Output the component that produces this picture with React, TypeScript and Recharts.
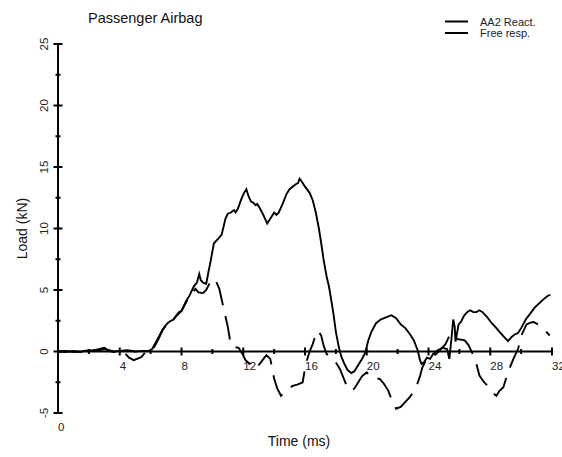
import React from 'react';
import { ComposedChart, Line, Scatter, XAxis, YAxis, ReferenceLine } from 'recharts';

// Time (ms) / load (kN) samples for the airbag reaction trace
const reactTime = [0, 0.5, 1.0, 1.5, 2.0, 2.5, 3.0, 3.3, 3.6, 4.0, 4.5, 5.0, 5.5, 5.9, 6.1, 6.4, 6.7, 6.9, 7.1, 7.3, 7.5, 7.7, 7.85, 8.0, 8.3, 8.5, 8.8, 9.0, 9.15, 9.25, 9.4, 9.6, 9.75, 9.85, 10.1, 10.4, 10.6, 10.85, 11.0, 11.2, 11.4, 11.5, 11.65, 11.85, 12.05, 12.2, 12.35, 12.5, 12.65, 12.8, 12.9, 13.05, 13.3, 13.55, 13.8, 14.0, 14.15, 14.3, 14.55, 14.8, 15.0, 15.2, 15.4, 15.55, 15.65, 15.8, 16.0, 16.3, 16.5, 16.7, 16.9, 17.05, 17.2, 17.4, 17.55, 17.7, 17.85, 18.0, 18.2, 18.35, 18.55, 18.75, 19.0, 19.2, 19.45, 19.7, 19.9, 20.1, 20.3, 20.6, 20.9, 21.2, 21.6, 21.9, 22.2, 22.5, 22.8, 23.05, 23.3, 23.45, 23.55, 23.7, 23.9, 24.1, 24.3, 24.6, 24.9, 25.2, 25.35, 25.5, 25.6, 25.7, 25.75, 25.85, 25.95, 26.1, 26.3, 26.5, 26.7, 26.9, 27.1, 27.3, 27.5, 27.8, 28.1, 28.4, 28.7, 28.95, 29.15, 29.4, 29.6, 29.8, 30.0, 30.3, 30.6, 30.9, 31.2, 31.5, 31.75, 31.9];
const reactLoad = [0.0, 0.05, -0.05, 0.0, 0.1, 0.05, 0.2, 0.1, 0.0, 0.05, 0.1, 0.0, 0.05, 0.05, 0.2, 0.9, 1.6, 2.0, 2.3, 2.5, 2.6, 3.0, 3.2, 3.3, 4.1, 4.5, 5.3, 5.6, 6.3, 5.8, 5.6, 5.5, 6.5, 7.1, 8.8, 9.2, 9.5, 10.8, 11.2, 11.3, 11.5, 11.3, 11.6, 12.3, 12.9, 13.2, 12.6, 12.2, 12.1, 11.9, 12.0, 11.7, 11.1, 10.4, 10.9, 11.3, 11.1, 11.3, 12.0, 12.8, 13.2, 13.4, 13.6, 13.7, 14.05, 13.8, 13.4, 12.9, 12.3, 11.3, 10.0, 8.8, 7.5, 6.1, 5.3, 4.2, 3.0, 1.6, 0.3, -0.4, -1.0, -1.5, -1.75, -1.6, -1.1, -0.6, -0.1, 0.9, 1.6, 2.3, 2.6, 2.75, 2.95, 2.7, 2.2, 1.9, 1.4, 0.9, 0.1, -0.7, -1.0, -0.9, -0.5, -0.6, -0.2, 0.1, 0.3, 0.2, -0.6, 1.2, 2.6, 2.0, 0.8, 1.5, 2.2, 2.4, 2.9, 3.2, 3.35, 3.2, 3.2, 3.35, 3.2, 2.8, 2.3, 1.9, 1.45, 1.1, 0.85, 1.2, 1.4, 1.5, 1.9, 2.6, 3.1, 3.6, 3.95, 4.3, 4.55, 4.6];

// Time (ms) / load (kN) samples for the free response trace
const freeTime = [0, 0.5, 1.0, 1.5, 2.0, 2.5, 3.0, 3.3, 3.6, 4.0, 4.3, 4.6, 4.9, 5.2, 5.4, 5.7, 6.0, 6.2, 6.5, 6.8, 7.0, 7.3, 7.6, 8.0, 8.3, 8.6, 8.9, 9.1, 9.4, 9.6, 9.8, 10.0, 10.2, 10.45, 10.75, 11.0, 11.2, 11.5, 11.7, 11.95, 12.15, 12.4, 12.7, 12.95, 13.25, 13.5, 13.75, 14.0, 14.2, 14.45, 14.6, 14.8, 15.2, 15.5, 15.85, 16.05, 16.3, 16.5, 16.7, 16.85, 17.05, 17.2, 17.4, 17.6, 17.8, 18.0, 18.25, 18.45, 18.7, 19.0, 19.2, 19.45, 19.7, 20.0, 20.3, 20.5, 20.85, 21.1, 21.4, 21.7, 21.9, 22.2, 22.5, 22.8, 23.2, 23.45, 23.6, 23.75, 24.05, 24.3, 24.5, 24.8, 25.1, 25.4, 25.7, 25.9, 26.35, 26.6, 26.9, 27.1, 27.3, 27.6, 28.0, 28.2, 28.4, 28.6, 28.85, 29.15, 29.5, 29.8, 30.05, 30.35, 30.6, 30.8, 31.1, 31.3, 31.55, 31.85];
const freeLoad = [0.0, -0.05, 0.05, -0.05, 0.05, 0.15, 0.3, 0.05, -0.05, 0.0, -0.1, -0.5, -0.7, -0.55, -0.45, 0.0, 0.05, 0.3, 1.0, 1.8, 2.1, 2.4, 2.8, 3.3, 4.0, 4.6, 5.1, 4.8, 4.75, 5.0, 5.5, 5.9, 5.8, 5.1, 3.4, 2.0, 0.5, 0.35, 0.3, -0.2, -0.7, -1.0, -0.8, -1.2, -0.7, -0.3, -0.6, -2.2, -3.0, -3.6, -3.4, -3.2, -2.8, -2.7, -2.5, -1.0, 0.0, 0.6, 1.4, 1.7, 1.3, 0.5, -0.2, -0.45, -0.6, -0.9, -1.4, -2.0, -2.8, -3.2, -3.0, -2.5, -2.0, -1.7, -2.1, -2.1, -2.25, -2.6, -3.2, -4.2, -4.65, -4.5, -4.1, -3.7, -2.9, -2.0, -1.3, -0.9, -0.6, -0.35, -0.2, 0.2, 0.6, 1.4, 1.3, 1.0, 0.9, 0.5, -0.3, -1.0, -1.95, -2.5, -3.0, -3.4, -3.6, -3.2, -2.9, -1.7, -0.6, 0.2, 1.4, 2.2, 2.35, 2.4, 2.2, 2.0, 1.7, 1.3];

// Axis ticks
const timeTicks = [2, 4, 6, 8, 10, 12, 14, 16, 18, 20, 22, 24, 26, 28, 30, 32];
const timeLabelEvery = 4;
const loadTicks = [-5, -2.5, 0, 2.5, 5, 7.5, 10, 12.5, 15, 17.5, 20, 22.5, 25];
const loadLabelEvery = 5;

const seriesNames = ['AA2 React.', 'Free resp.'];
const titleText = 'Passenger Airbag';

const reactData = reactTime.map((t, i) => ({ t, v: reactLoad[i] }));
const freeData = freeTime.map((t, i) => ({ t, v: freeLoad[i] }));
const timeTickData = timeTicks.map((t) => ({ t, v: 0 }));

const narrow = "'Liberation Sans Narrow', 'Liberation Sans', Arial, sans-serif";
const regular = "'Liberation Sans', Arial, sans-serif";

const LoadTick = (props: any) => {
  const { x, y, payload } = props;
  const v = payload.value as number;
  const major = v % loadLabelEvery === 0;
  const half = major ? 4.5 : 2.5;
  return (
    <g>
      <line x1={x - half} x2={x + half} y1={y} y2={y} stroke="#000" strokeWidth={2} />
      {major && (
        <text
          transform={`translate(${x - 14},${y}) rotate(-90)`}
          textAnchor="middle"
          dy="0.36em"
          fontFamily={narrow}
          fontSize={11.5}
          fill="#222"
        >
          {v}
        </text>
      )}
    </g>
  );
};

const OriginTick = (props: any) => {
  const { x, y, payload } = props;
  return (
    <text x={x} y={y + 18} textAnchor="start" fontFamily={narrow} fontSize={11.5} fill="#222">
      {payload.value}
    </text>
  );
};

// Tick marks and labels on the zero line
const TimeTickShape = (props: any) => {
  const { cx, cy, payload } = props;
  const t = payload.t as number;
  const major = t % timeLabelEvery === 0;
  const half = major ? 4 : 2.5;
  return (
    <g>
      <line x1={cx} x2={cx} y1={cy - half} y2={cy + half} stroke="#000" strokeWidth={2} />
      {major && (
        <text x={cx} y={cy + 18.5} textAnchor="start" fontFamily={narrow} fontSize={11.5} fill="#222">
          {t}
        </text>
      )}
    </g>
  );
};

export default function App() {
  return (
    <div style={{ position: 'absolute', left: 0, top: 0, width: 562, height: 457, background: '#fff' }}>
      <ComposedChart width={562} height={457} margin={{ top: 44, right: 10, bottom: 0, left: 0 }}>
        <XAxis
          type="number"
          dataKey="t"
          domain={[0, 32]}
          ticks={[0]}
          axisLine={false}
          tickLine={false}
          tickSize={0}
          tickMargin={0}
          height={44}
          tick={<OriginTick />}
          label={{
            value: 'Time (ms)',
            position: 'insideBottom',
            offset: 11,
            dx: -6,
            style: { fontFamily: regular, fontSize: 14, fill: '#111' },
          }}
        />
        <YAxis
          type="number"
          domain={[-5, 25]}
          ticks={loadTicks}
          interval={0}
          width={58}
          axisLine={{ stroke: '#000', strokeWidth: 2 }}
          tickLine={false}
          tickSize={0}
          tickMargin={0}
          tick={<LoadTick />}
          label={{
            value: 'Load (kN)',
            angle: -90,
            position: 'insideLeft',
            offset: 22,
            style: { textAnchor: 'middle', fontFamily: regular, fontSize: 14, fill: '#111' },
          }}
        />
        <ReferenceLine y={0} stroke="#000" strokeWidth={2} />
        <Scatter
          data={timeTickData}
          dataKey="v"
          shape={<TimeTickShape />}
          isAnimationActive={false}
          legendType="none"
        />
        <Line
          data={reactData}
          dataKey="v"
          type="linear"
          stroke="#000"
          strokeWidth={1.9}
          dot={false}
          isAnimationActive={false}
          name={seriesNames[0]}
        />
        <Line
          data={freeData}
          dataKey="v"
          type="linear"
          stroke="#000"
          strokeWidth={1.9}
          strokeDasharray="24 11"
          dot={false}
          isAnimationActive={false}
          name={seriesNames[1]}
        />
      </ComposedChart>
      <svg
        width={562}
        height={457}
        style={{ position: 'absolute', left: 0, top: 0, pointerEvents: 'none' }}
      >
        <text x={88} y={23} fontFamily={regular} fontSize={14.5} fill="#111">
          {titleText}
        </text>
        {seriesNames.map((name, i) => (
          <g key={name}>
            <line x1={445} x2={468} y1={21.5 + i * 11.5} y2={21.5 + i * 11.5} stroke="#000" strokeWidth={2} />
            <text x={480} y={25.5 + i * 11.5} fontFamily={narrow} fontSize={11} fill="#222">
              {name}
            </text>
          </g>
        ))}
      </svg>
    </div>
  );
}
